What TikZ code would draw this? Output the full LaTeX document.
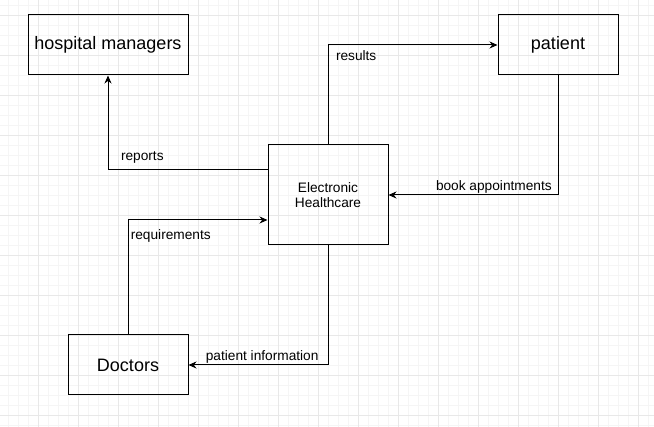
\documentclass[tikz,border=0pt]{standalone}
\usepackage{fontspec}
\setmainfont{Liberation Sans}
\usetikzlibrary{arrows.meta}

\begin{document}
\begin{tikzpicture}[x=1pt, y=-1pt, line width=1pt, >={Stealth[length=8pt,width=7pt]},
    box/.style={draw, rectangle, inner sep=0pt, font=\fontsize{18}{21}\selectfont},
    lbl/.style={inner sep=0pt, anchor=base west, font=\fontsize{13.7}{15.7}\selectfont},
    minorgrid/.style={line width=0.6pt, black!4},
    majorgrid/.style={line width=0.8pt, black!9}]
    % Background grid
    \useasboundingbox (0,0) rectangle (654,427);
    \fill[white] (0,0) rectangle (654,427);
    \foreach \x in {8,18,...,648} \draw[minorgrid] (\x,0) -- (\x,427);
    \foreach \y in {5,15,...,425} \draw[minorgrid] (0,\y) -- (654,\y);
    \foreach \x in {38,78,...,638} \draw[majorgrid] (\x,0) -- (\x,427);
    \foreach \y in {15,55,...,415} \draw[majorgrid] (0,\y) -- (654,\y);
    % Boxes
    \node[box, minimum width=160, minimum height=60] (managers) at (108,45) {hospital managers};
    \node[box, minimum width=120, minimum height=60] (patient) at (558,45) {patient};
    \node[box, minimum width=120, minimum height=100, align=center,
          font=\fontsize{13.7}{15.7}\selectfont] (ehealth) at (328,195) {Electronic\\Healthcare};
    \node[box, minimum width=120, minimum height=60] (doctors) at (128,365) {Doctors};
    % Flows
    \draw[->] ([yshift=25pt]ehealth.west) -| (managers.south);
    \draw[->] (ehealth.north) |- (patient.west);
    \draw[->] (patient.south) |- (ehealth.east);
    \draw[->] (doctors.north) |- ([yshift=-25pt]ehealth.west);
    \draw[->] (ehealth.south) |- (doctors.east);
    % Flow labels
    \node[lbl] (reportsLbl) at (120.5,161) {reports};
    \node[lbl] (resultsLbl) at (335.5,61) {results};
    \node[lbl] (bookLbl) at (435.5,191) {book appointments};
    \node[lbl] (reqLbl) at (130.3,240) {requirements};
    \node[lbl] (infoLbl) at (205.3,361) {patient information};
\end{tikzpicture}
\end{document}
